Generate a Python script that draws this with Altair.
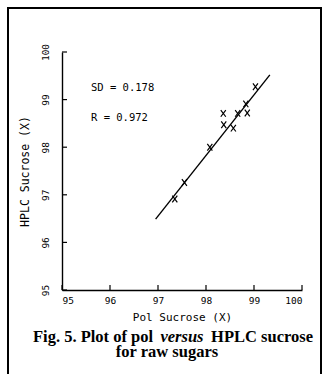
import altair as alt
import pandas as pd

# Pol vs HPLC sucrose for raw sugars
pol = [97.35, 97.55, 98.08, 98.36, 98.37, 98.57, 98.66, 98.83, 98.86, 99.03]
hplc = [96.91, 97.26, 98.00, 98.71, 98.47, 98.40, 98.71, 98.91, 98.72, 99.27]

# fitted line end points
fit_x = [96.95, 99.33]
fit_y = [96.49, 99.52]

ticks = [95, 96, 97, 98, 99, 100]

W, H = 240, 238
MONO = "DejaVu Sans Mono"
SERIF = "Liberation Serif"
CAP = 16.5

pts = pd.DataFrame({"pol": pol, "hplc": hplc})
fit = pd.DataFrame({"pol": fit_x, "hplc": fit_y})
tk = pd.DataFrame({"t": ticks})
one = pd.DataFrame({"a": [0]})

xs = alt.Scale(domain=[95, 100], nice=False, zero=False)
ys = alt.Scale(domain=[95, 100], nice=False, zero=False)

x_axis = alt.Axis(
    values=ticks, ticks=False, tickSize=0, grid=False, domainColor="black",
    domainWidth=1.4, labelFont=MONO, labelFontSize=9.5, labelColor="black",
    labelPadding=5, labelBaseline="top", title="Pol Sucrose (X)",
    titleFont=MONO, titleFontSize=11, titleFontWeight="normal",
    titleColor="black", titleX=120, titleY=27, titleBaseline="middle",
    titleAlign="center",
)
y_axis = alt.Axis(
    values=ticks, ticks=False, tickSize=0, grid=False, domainColor="black",
    domainWidth=1.4, labelFont=MONO, labelFontSize=9.5, labelColor="black",
    labelAngle=270, labelAlign="center", labelBaseline="middle",
    labelPadding=17, title="HPLC Sucrose (X)", titleFont=MONO,
    titleFontSize=11.5, titleFontWeight="normal", titleColor="black",
    titleAngle=270, titleX=-37, titleY=119, titleBaseline="middle",
    titleAlign="center",
)

points = alt.Chart(pts).mark_point(
    shape="M-0.75,-1L0.75,1M-0.75,1L0.75,-1", size=45, filled=False,
    color="black", strokeWidth=1.2, opacity=1,
).encode(
    x=alt.X("pol:Q", scale=xs, axis=x_axis),
    y=alt.Y("hplc:Q", scale=ys, axis=y_axis),
)

line = alt.Chart(fit).mark_line(color="black", strokeWidth=1.4).encode(
    x=alt.X("pol:Q", scale=xs),
    y=alt.Y("hplc:Q", scale=ys),
)

# inward-pointing tick marks
yticks = alt.Chart(tk).mark_rule(color="black", strokeWidth=1.2).encode(
    y=alt.Y("t:Q", scale=ys), x=alt.value(0), x2=alt.value(5)
)
xticks = alt.Chart(tk).mark_rule(color="black", strokeWidth=1.2).encode(
    x=alt.X("t:Q", scale=xs), y=alt.value(H), y2=alt.value(H - 5)
)

sd = alt.Chart(one).mark_text(
    text="SD = 0.178", font=MONO, fontSize=10.5, align="left",
    baseline="middle", color="black",
).encode(x=alt.value(29), y=alt.value(36))
rr = alt.Chart(one).mark_text(
    text="R = 0.972", font=MONO, fontSize=10.5, align="left",
    baseline="middle", color="black",
).encode(x=alt.value(29), y=alt.value(66))

# figure caption, with "versus" set in italics
cap_a = alt.Chart(one).mark_text(
    text="Fig. 5. Plot of pol", font=SERIF, fontSize=CAP, fontWeight="bold",
    align="left", baseline="middle", color="black",
).encode(x=alt.value(-29), y=alt.value(285))
cap_b = alt.Chart(one).mark_text(
    text="versus", font=SERIF, fontSize=CAP, fontWeight="bold",
    fontStyle="italic", align="center", baseline="middle", color="black",
).encode(x=alt.value(120), y=alt.value(285))
cap_c = alt.Chart(one).mark_text(
    text="HPLC sucrose", font=SERIF, fontSize=CAP, fontWeight="bold",
    align="right", baseline="middle", color="black",
).encode(x=alt.value(251), y=alt.value(285))
cap_d = alt.Chart(one).mark_text(
    text="for raw sugars", font=SERIF, fontSize=CAP, fontWeight="bold",
    align="center", baseline="middle", color="black",
).encode(x=alt.value(105), y=alt.value(300))

frame = alt.Chart(one).mark_rect(
    fill=None, stroke="black", strokeWidth=2
).encode(
    x=alt.value(-54), x2=alt.value(259), y=alt.value(-44), y2=alt.value(340)
)

chart = alt.layer(
    frame, line, points, yticks, xticks, sd, rr, cap_a, cap_b, cap_c, cap_d
).properties(
    width=W, height=H, autosize="none",
    padding={"left": 62, "top": 52, "right": 22, "bottom": 84},
    background="white",
).configure_view(stroke=None)

chart.save("out.html", embed_options={"renderer": "svg", "actions": False})
